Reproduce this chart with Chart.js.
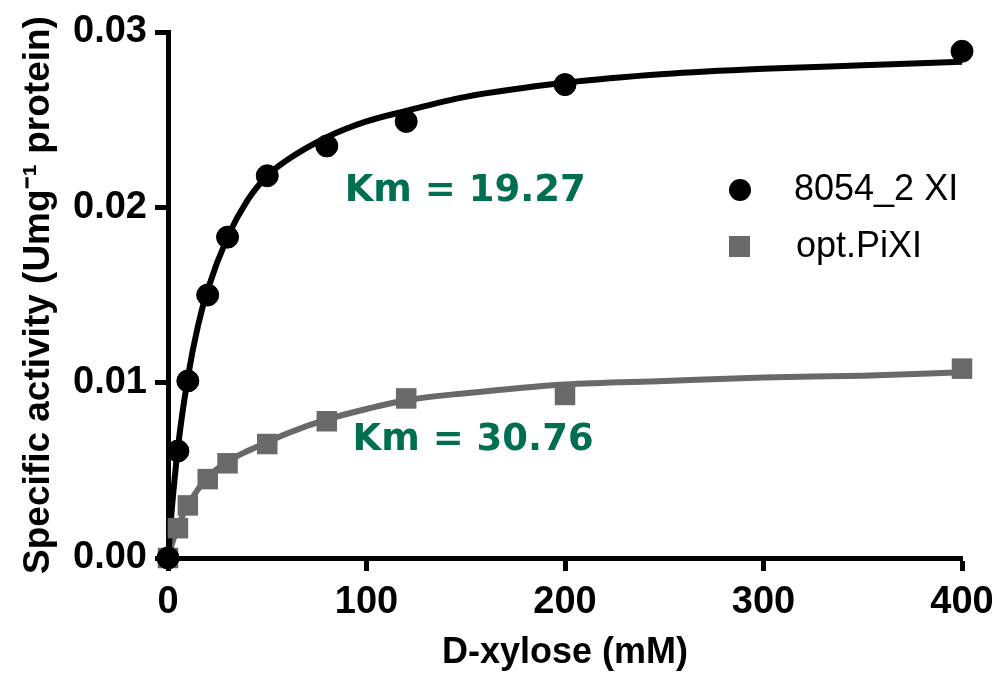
<!DOCTYPE html>
<html>
<head>
<meta charset="utf-8">
<script src="https://cdn.jsdelivr.net/npm/chart.js@4"></script>
<style>
html, body { margin: 0; padding: 0; background: #fff; }
#wrap { width: 997px; height: 677px; }
</style>
</head>
<body>
<div id="wrap"><canvas id="myChart"></canvas></div>
<script>
// measured points
var xylose = [0, 5, 10, 20, 30, 50, 80, 120, 200, 400];
var xi8054 = [0, 0.0061, 0.0101, 0.0150, 0.0183, 0.0218, 0.0235, 0.0249, 0.0270, 0.0289];
var optPiXI = [0, 0.0017, 0.0030, 0.0045, 0.0054, 0.0065, 0.0078, 0.0091, 0.0093, 0.0108];

// fitted curves
var fitX = [0, 2, 5, 10, 15, 20, 30, 40, 50, 60, 80, 100, 120, 150, 200, 250, 300, 350, 400];
var fit8054 = [0, 0.0029, 0.0063, 0.0103, 0.0132, 0.0153, 0.0183, 0.0204, 0.0218, 0.0227, 0.0240, 0.0249, 0.0255, 0.0263, 0.0271, 0.0276, 0.0279, 0.0281, 0.0283];
var fitPiXI = [0, 0.0008, 0.0018, 0.0030, 0.0039, 0.0046, 0.0055, 0.0061, 0.0066, 0.0071, 0.0079, 0.0085, 0.0090, 0.0094, 0.0099, 0.0101, 0.0103, 0.0104, 0.0106];

var seriesNames = ["8054_2 XI", "opt.PiXI"];
var kmLabels = ["Km = 19.27", "Km = 30.76"];
var kmSpots = [[89, 0.0209], [93, 0.0067]];

var black = "#000000";
var grey = "#696969";
var green = "#006E50";

function pts(xs, ys) {
  return xs.map(function (x, i) { return { x: x, y: ys[i] }; });
}

// Km labels + legend drawn on top
var extras = {
  id: "extras",
  afterDatasetsDraw: function (chart) {
    var ctx = chart.ctx;
    var xs = chart.scales.x, ys = chart.scales.y;
    var area = chart.chartArea;
    ctx.save();
    ctx.fillStyle = green;
    ctx.font = "bold 37px 'DejaVu Sans'";
    ctx.textBaseline = "middle";
    ctx.textAlign = "left";
    kmLabels.forEach(function (t, i) {
      ctx.fillText(t, xs.getPixelForValue(kmSpots[i][0]), ys.getPixelForValue(kmSpots[i][1]));
    });

    // legend
    var mx = area.right - 222;
    var tx = area.right - 168;
    var r1 = area.top + 158, r2 = area.top + 215;
    ctx.fillStyle = black;
    ctx.beginPath();
    ctx.arc(mx, r1, 11, 0, Math.PI * 2);
    ctx.fill();
    ctx.fillStyle = grey;
    ctx.fillRect(mx - 11, r2 - 11, 21, 21);
    ctx.fillStyle = black;
    ctx.font = "36px 'Liberation Sans'";
    ctx.fillText(seriesNames[0], tx, r1);
    ctx.fillText(seriesNames[1], tx + 2, r2);
    ctx.restore();
  }
};

new Chart("myChart", {
  type: "scatter",
  data: {
    datasets: [
      {
        label: seriesNames[0],
        data: pts(xylose, xi8054),
        backgroundColor: black,
        borderColor: black,
        pointRadius: 11,
        pointHoverRadius: 11,
        pointStyle: "circle",
        clip: false,
        order: 1
      },
      {
        label: seriesNames[1],
        data: pts(xylose, optPiXI),
        backgroundColor: grey,
        borderColor: grey,
        borderWidth: 0,
        pointRadius: 14.5,
        pointHoverRadius: 14.5,
        pointStyle: "rect",
        clip: false,
        order: 2
      },
      {
        label: "fit1",
        data: pts(fitX, fit8054),
        showLine: true,
        borderColor: black,
        borderWidth: 6,
        pointRadius: 0,
        cubicInterpolationMode: "monotone",
        clip: false,
        order: 3
      },
      {
        label: "fit2",
        data: pts(fitX, fitPiXI),
        showLine: true,
        borderColor: grey,
        borderWidth: 6,
        pointRadius: 0,
        cubicInterpolationMode: "monotone",
        clip: false,
        order: 4
      }
    ]
  },
  options: {
    responsive: true,
    maintainAspectRatio: false,
    animation: false,
    layout: { padding: { top: 32, right: 35, left: 0, bottom: 0 } },
    plugins: {
      legend: { display: false },
      tooltip: { enabled: false }
    },
    scales: {
      x: {
        type: "linear",
        min: 0,
        max: 400,
        ticks: {
          stepSize: 100,
          color: black,
          padding: 9,
          maxRotation: 0,
          font: { family: "'Liberation Sans'", size: 38, weight: "bold" }
        },
        grid: {
          drawOnChartArea: false,
          tickLength: 13,
          tickWidth: 5,
          tickColor: black
        },
        border: { display: true, width: 5, color: black },
        title: {
          display: true,
          text: "D-xylose (mM)",
          color: black,
          padding: { top: 0, bottom: 2 },
          font: { family: "'Liberation Sans'", size: 36, weight: "bold" }
        },
        afterFit: function (s) { s.height = 119; s.paddingRight = 0; s.paddingLeft = 0; }
      },
      y: {
        min: 0,
        max: 0.03,
        ticks: {
          stepSize: 0.01,
          color: black,
          padding: 8,
          font: { family: "'Liberation Sans'", size: 38, weight: "bold" },
          callback: function (v) { return v.toFixed(2); }
        },
        grid: {
          drawOnChartArea: false,
          tickLength: 13,
          tickWidth: 5,
          tickColor: black
        },
        border: { display: true, width: 5, color: black },
        title: {
          display: true,
          text: "Specific activity (Umg\u207B\u00B9 protein)",
          color: black,
          padding: { top: 17, bottom: 0 },
          font: { family: "'Liberation Sans'", size: 37, weight: "bold" }
        },
        afterFit: function (s) { s.width = 168; s.paddingTop = 0; s.paddingBottom = 0; }
      }
    }
  },
  plugins: [extras]
});
</script>
</body>
</html>
